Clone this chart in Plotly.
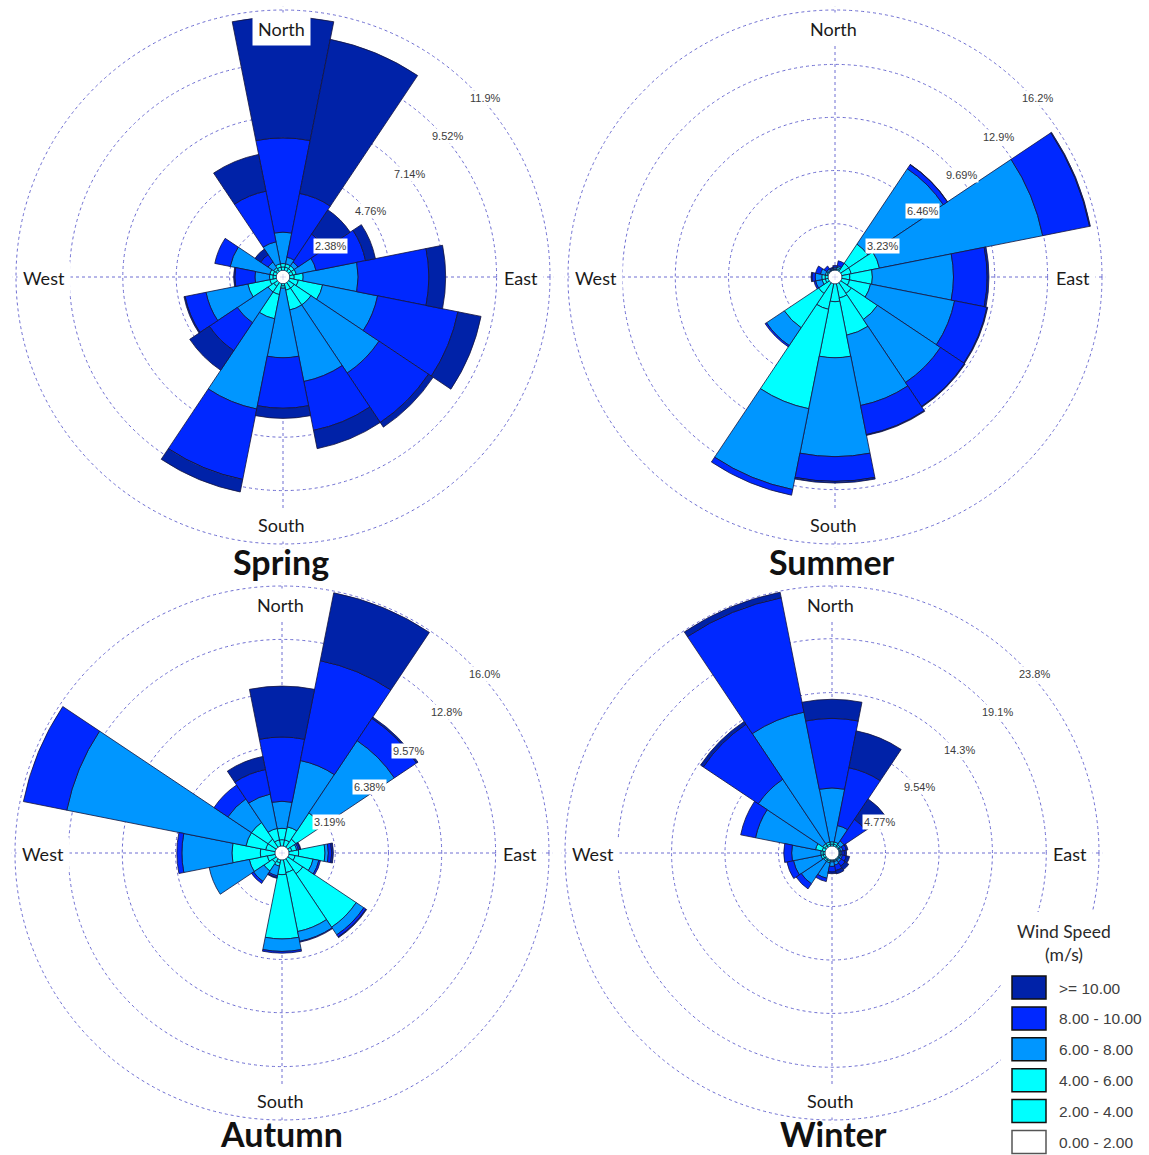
import math
import plotly.graph_objects as go

# ---------------------------------------------------------------------------
# Data: frequency (%) of wind from each of 16 directions, split by speed class
# ---------------------------------------------------------------------------
directions = ["N", "NNE", "NE", "ENE", "E", "ESE", "SE", "SSE",
              "S", "SSW", "SW", "WSW", "W", "WNW", "NW", "NNW"]

speed_bins = ["0.00 - 2.00", "2.00 - 4.00", "4.00 - 6.00",
              "6.00 - 8.00", "8.00 - 10.00", ">= 10.00"]
bin_colors = ["#FFFFFF", "#00FFFF", "#00FFFF", "#0096FF", "#0028FF", "#0022A8"]

seasons = ["Spring", "Summer", "Autumn", "Winter"]

# Spring
spring_0_2 = [0.3, 0.3, 0.3, 0.3, 0.3, 0.3, 0.3, 0.3, 0.3, 0.3, 0.3, 0.3, 0.3, 0.3, 0.3, 0.3]
spring_2_4 = [0.15, 0.15, 0.15, 0.15, 0.2, 0.4, 0.3, 0.3, 0.1, 0.5, 0.2, 0.3, 0.15, 0.15, 0.1, 0.15]
spring_4_6 = [0.15, 0.15, 0.15, 0.15, 0.4, 1.1, 0.9, 0.9, 0.1, 1.1, 0.3, 1.0, 0.15, 0.15, 0.1, 0.15]
spring_6_8 = [1.4, 0.3, 0.2, 0.9, 2.45, 2.5, 3.65, 3.25, 3.1, 4.1, 1.65, 1.9, 0.65, 1.8, 0.3, 1.0]
spring_8_10 = [4.2, 2.9, 1.5, 2.25, 3.15, 3.65, 2.65, 2.22, 2.25, 3.2, 1.5, 0.95, 0.9, 0.7, 0.4, 2.3]
spring_10 = [5.4, 7.0, 1.3, 0.45, 0.75, 1.05, 0.25, 0.83, 0.45, 0.57, 1.05, 0.05, 0.05, 0.0, 0.3, 1.67]

# Summer
summer_0_2 = [0.42, 0.42, 0.42, 0.42, 0.42, 0.42, 0.42, 0.42, 0.42, 0.42, 0.42, 0.42, 0.42, 0.42, 0.42, 0.42]
summer_2_4 = [0.03, 0.08, 0.58, 0.58, 0.48, 0.48, 0.78, 0.88, 1.08, 1.58, 0.78, 0.18, 0.18, 0.08, 0.03, 0.03]
summer_4_6 = [0.05, 0.1, 1.4, 1.75, 1.37, 1.3, 1.9, 2.3, 3.4, 6.15, 2.5, 0.2, 0.2, 0.1, 0.05, 0.05]
summer_6_8 = [0.1, 0.1, 5.5, 10.1, 4.92, 5.2, 4.6, 4.35, 6.0, 5.0, 1.3, 0.4, 0.4, 0.3, 0.1, 0.05]
summer_8_10 = [0.1, 0.3, 0.3, 2.9, 2.04, 2.0, 1.75, 1.8, 1.5, 0.35, 0.1, 0.1, 0.2, 0.3, 0.2, 0.05]
summer_10 = [0.0, 0.0, 0.02, 0.05, 0.11, 0.05, 0.05, 0.05, 0.1, 0.0, 0.0, 0.0, 0.05, 0.0, 0.0, 0.0]

# Autumn
autumn_0_2 = [0.42, 0.42, 0.42, 0.42, 0.42, 0.42, 0.42, 0.42, 0.42, 0.42, 0.42, 0.42, 0.42, 0.42, 0.42, 0.42]
autumn_2_4 = [0.38, 0.38, 0.58, 0.18, 0.58, 0.38, 1.08, 0.78, 0.88, 0.18, 0.28, 0.48, 0.88, 0.58, 0.58, 0.38]
autumn_4_6 = [0.68, 0.8, 1.9, 0.3, 1.58, 1.1, 3.85, 3.6, 3.85, 0.2, 0.6, 1.1, 1.7, 1.2, 1.2, 0.7]
autumn_6_8 = [1.62, 4.05, 5.2, 0.1, 0.2, 0.35, 0.55, 0.6, 0.75, 0.6, 0.75, 2.45, 3.0, 10.95, 1.7, 2.1]
autumn_8_10 = [3.85, 6.1, 1.6, 0.1, 0.2, 0.1, 0.15, 0.05, 0.1, 0.1, 0.15, 0.0, 0.3, 2.65, 1.0, 1.5]
autumn_10 = [3.05, 4.15, 0.1, 0.05, 0.1, 0.0, 0.05, 0.0, 0.0, 0.05, 0.0, 0.0, 0.0, 0.0, 0.0, 0.8]

# Winter
winter_0_2 = [0.62, 0.62, 0.62, 0.62, 0.62, 0.62, 0.62, 0.62, 0.62, 0.62, 0.62, 0.62, 0.62, 0.62, 0.62, 0.62]
winter_2_4 = [0.18, 0.18, 0.13, 0.08, 0.08, 0.08, 0.08, 0.08, 0.08, 0.13, 0.13, 0.18, 0.18, 0.28, 0.18, 0.18]
winter_4_6 = [0.2, 0.2, 0.15, 0.1, 0.1, 0.1, 0.1, 0.1, 0.1, 0.15, 0.15, 0.2, 0.2, 0.6, 0.2, 0.2]
winter_6_8 = [4.8, 1.5, 0.4, 0.2, 0.1, 0.15, 0.2, 0.3, 0.4, 1.4, 2.4, 2.5, 2.6, 5.45, 6.9, 11.8]
winter_8_10 = [6.2, 5.25, 2.3, 0.3, 0.2, 0.35, 0.4, 0.5, 0.5, 0.3, 0.55, 0.6, 0.7, 1.35, 5.9, 10.4]
winter_10 = [1.7, 3.35, 2.2, 0.15, 0.2, 0.3, 0.4, 0.3, 0.15, 0.0, 0.0, 0.0, 0.0, 0.0, 0.3, 0.5]

# Frequency rings (%) of each rose
spring_rings = [2.38, 4.76, 7.14, 9.52, 11.9]
summer_rings = [3.23, 6.46, 9.69, 12.9, 16.2]
autumn_rings = [3.19, 6.38, 9.57, 12.8, 16.0]
winter_rings = [4.77, 9.54, 14.3, 19.1, 23.8]

season_bins = {
    "Spring": [spring_0_2, spring_2_4, spring_4_6, spring_6_8, spring_8_10, spring_10],
    "Summer": [summer_0_2, summer_2_4, summer_4_6, summer_6_8, summer_8_10, summer_10],
    "Autumn": [autumn_0_2, autumn_2_4, autumn_4_6, autumn_6_8, autumn_8_10, autumn_10],
    "Winter": [winter_0_2, winter_2_4, winter_4_6, winter_6_8, winter_8_10, winter_10],
}
season_rings = {"Spring": spring_rings, "Summer": summer_rings,
                "Autumn": autumn_rings, "Winter": winter_rings}

compass_labels = ["North", "East", "South", "West"]

# ---------------------------------------------------------------------------
# Layout geometry (pixels)
# ---------------------------------------------------------------------------
W, H = 1149, 1155
R = 267                      # radius of the outermost frequency ring
PAD = 1.012                  # keep the outer ring inside the radial range
centers = {"Spring": (283, 277), "Summer": (835, 277),
           "Autumn": (282, 853), "Winter": (832, 853)}
title_pos = {"Spring": (281, 561), "Summer": (832, 561),
             "Autumn": (281, 1133), "Winter": (833, 1133)}

GRID = "#6E6ED2"
OUTLINE = "#14143C"
sector = 360 / len(directions)
theta = [i * sector for i in range(len(directions))]


def px(x):
    return x / W


def py(y):
    return 1 - y / H


fig = go.Figure()
annotations = []
layout_polars = {}

for k, season in enumerate(seasons):
    pname = "polar" if k == 0 else f"polar{k + 1}"
    cx, cy = centers[season]
    rings = season_rings[season]
    rmax = rings[-1] * PAD
    Rp = R * PAD

    for b, (label, color) in enumerate(zip(speed_bins, bin_colors)):
        fig.add_trace(go.Barpolar(
            r=season_bins[season][b],
            theta=theta,
            width=sector,
            name=label,
            subplot=pname,
            marker=dict(color=color,
                        line=dict(color=OUTLINE, width=0 if b == 0 else 0.8)),
            showlegend=False,
            customdata=directions,
            hovertemplate="%{customdata}: %{r:.2f}%<extra>" + label + "</extra>",
        ))

    layout_polars[pname] = dict(
        domain=dict(x=[px(cx - Rp), px(cx + Rp)], y=[py(cy + Rp), py(cy - Rp)]),
        bgcolor="white",
        bargap=0,
        barmode="stack",
        hole=0,
        radialaxis=dict(range=[0, rmax], tickvals=rings, showticklabels=False,
                        ticks="", showline=False, gridcolor=GRID,
                        griddash="dot", gridwidth=1.2),
        angularaxis=dict(direction="clockwise", rotation=90,
                         tickvals=[0, 90, 180, 270], showticklabels=False,
                         ticks="", showline=False, gridcolor=GRID,
                         griddash="dot", gridwidth=1.2),
    )

    # compass labels inside the outer ring
    offsets = [(0, -248), (240, 1), (0, 248), (-237, 1)]
    for text, (dx, dy) in zip(compass_labels, offsets):
        annotations.append(dict(
            x=px(cx + dx - 2), y=py(cy + dy), xref="paper", yref="paper",
            text=text, showarrow=False, xanchor="center", yanchor="middle",
            font=dict(family="Lato", size=18, color="#1A1A1A"),
            bgcolor="white", borderpad=5))

    # ring value labels
    ring_angles = [57, 53, 51, 49.5, 48.5]
    for j, val in enumerate(rings):
        rr = R * val / rings[-1] + 3
        a = math.radians(ring_angles[j])
        annotations.append(dict(
            x=px(cx + rr * math.sin(a)), y=py(cy - rr * math.cos(a)),
            xref="paper", yref="paper", text=f"{val:.1f}%" if val >= 10 else f"{val:.2f}%",
            showarrow=False, xanchor="center", yanchor="middle",
            font=dict(family="Liberation Sans", size=11, color="#3C3C3C"),
            bgcolor="white", borderpad=1))

    # season title
    tx, ty = title_pos[season]
    annotations.append(dict(
        x=px(tx), y=py(ty), xref="paper", yref="paper",
        text=f"<b>{season}</b>", showarrow=False,
        xanchor="center", yanchor="middle",
        font=dict(family="Lato", size=34, color="#111111")))

# ---------------------------------------------------------------------------
# Speed legend (bottom-right)
# ---------------------------------------------------------------------------
shapes = [dict(type="rect", xref="paper", yref="paper",
               x0=px(1001), x1=px(1149), y0=py(1155), y1=py(912),
               fillcolor="white", line=dict(width=0), layer="above")]
for text, y in (("Wind Speed", 931), ("(m/s)", 954)):
    annotations.append(dict(x=px(1064), y=py(y), xref="paper", yref="paper",
                            text=text, showarrow=False,
                            xanchor="center", yanchor="middle",
                            font=dict(family="Lato", size=17.5, color="#2A2A2A")))
for i, b in enumerate(reversed(range(len(speed_bins)))):
    top = 976 + i * 30.9
    shapes.append(dict(type="rect", xref="paper", yref="paper",
                       x0=px(1012), x1=px(1046), y0=py(top + 23), y1=py(top),
                       fillcolor=bin_colors[b],
                       line=dict(color="#111111" if b else "#555555", width=1.5),
                       layer="above"))
    annotations.append(dict(x=px(1057), y=py(top + 12), xref="paper", yref="paper",
                            text=speed_bins[b], showarrow=False,
                            xanchor="left", yanchor="middle",
                            font=dict(family="Liberation Sans", size=15.5,
                                      color="#404040")))

fig.update_layout(
    width=W, height=H,
    margin=dict(l=0, r=0, t=0, b=0),
    paper_bgcolor="white",
    plot_bgcolor="white",
    showlegend=False,
    annotations=annotations,
    shapes=shapes,
    **layout_polars,
)

fig.write_html("out.html")
